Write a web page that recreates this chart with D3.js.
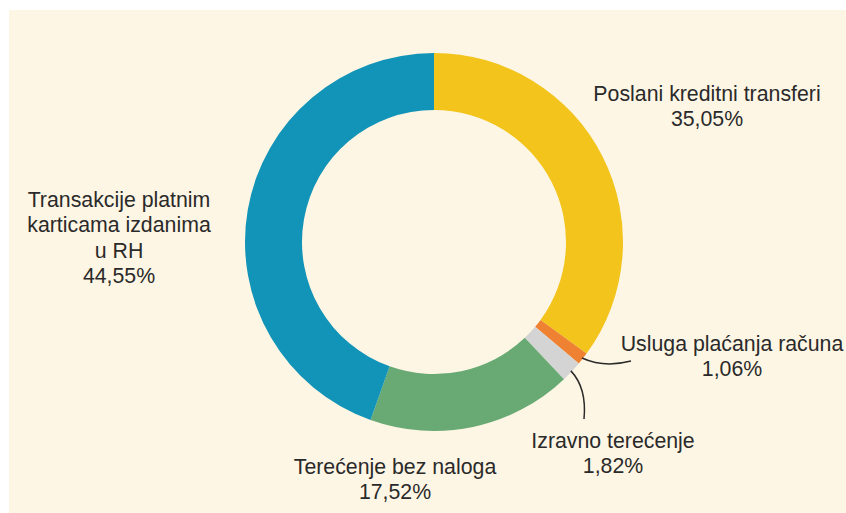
<!DOCTYPE html>
<html>
<head>
<meta charset="utf-8">
<script src="https://cdn.jsdelivr.net/npm/d3@7"></script>
<style>
  html, body { margin: 0; padding: 0; background: #ffffff; }
  svg { display: block; }
  text { font-family: "Liberation Sans", Arial, Helvetica, sans-serif; fill: #2a2a2a; }
</style>
</head>
<body>
<svg id="chart" width="846" height="513"></svg>
<script>
// ---- data ----
const categories = [
  "Poslani kreditni transferi",
  "Usluga plaćanja računa",
  "Izravno terećenje",
  "Terećenje bez naloga",
  "Transakcije platnim karticama izdanima u RH"
];
const values = [35.05, 1.06, 1.82, 17.52, 44.55];
const valueLabels = ["35,05%", "1,06%", "1,82%", "17,52%", "44,55%"];
const labelLines = [
  ["Poslani kreditni transferi"],
  ["Usluga plaćanja računa"],
  ["Izravno terećenje"],
  ["Terećenje bez naloga"],
  ["Transakcije platnim", "karticama izdanima", "u RH"]
];
const colors = ["#F2C41C", "#EE8232", "#D4D4D4", "#69AA74", "#1293B8"];

// ---- layout ----
const W = 846, H = 513;
const cx = 434, cy = 242, rOuter = 189, rInner = 132;
const svg = d3.select("#chart");

svg.append("rect")
  .attr("x", 9).attr("y", 10)
  .attr("width", W - 9).attr("height", H - 10)
  .attr("fill", "#FEF6E4");

const g = svg.append("g").attr("transform", `translate(${cx},${cy})`);

const pie = d3.pie().sort(null).value(d => d)
  .startAngle(0).endAngle(2 * Math.PI);
const arcs = pie(values);
const arc = d3.arc().innerRadius(rInner).outerRadius(rOuter);

g.selectAll("path.slice")
  .data(arcs)
  .join("path")
  .attr("class", "slice")
  .attr("d", arc)
  .attr("fill", (d, i) => colors[i]);

// label anchor positions (label centre x, first baseline y) in page coords
const labelPos = [
  { x: 707, y: 101 },
  { x: 732, y: 351 },
  { x: 613, y: 448 },
  { x: 395, y: 474 },
  { x: 119, y: 207 }
];
const lineH = 25.3;

labelPos.forEach((p, i) => {
  const t = svg.append("text")
    .attr("text-anchor", "middle")
    .attr("font-size", 21.3);
  const lines = labelLines[i].concat([valueLabels[i]]);
  lines.forEach((ln, k) => {
    t.append("tspan").attr("x", p.x).attr("y", p.y + k * lineH).text(ln);
  });
});

// leader lines for the small slices
function outerPoint(d, extra) {
  const a = (d.startAngle + d.endAngle) / 2;
  const r = rOuter + (extra || 0);
  return [cx + r * Math.sin(a), cy - r * Math.cos(a)];
}
const p1 = outerPoint(arcs[1], -1);
const p2 = outerPoint(arcs[2], -1);

const leaders = [
  { from: p1, ctrl: [604, 368], to: [631, 361] },
  { from: p2, ctrl: [587, 388], to: [584, 419] }
];
const lineGen = d => {
  const path = d3.path();
  path.moveTo(d.from[0], d.from[1]);
  path.quadraticCurveTo(d.ctrl[0], d.ctrl[1], d.to[0], d.to[1]);
  return path.toString();
};
svg.selectAll("path.leader")
  .data(leaders)
  .join("path")
  .attr("class", "leader")
  .attr("d", lineGen)
  .attr("fill", "none")
  .attr("stroke", "#2a2a2a")
  .attr("stroke-width", 1.5);
</script>
</body>
</html>
